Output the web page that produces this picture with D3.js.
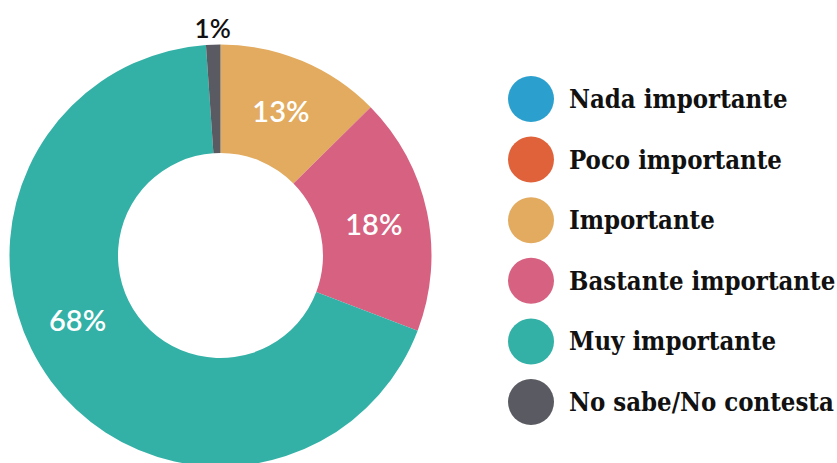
<html>
<head>
<script src="https://d3js.org/d3.v7.min.js"></script>
<style>
body { margin: 0; background: #fff; }
svg { display: block; }
</style>
</head>
<body>
<svg width="837" height="463"></svg>
<script>
var categories = ["Nada importante", "Poco importante", "Importante", "Bastante importante", "Muy importante", "No sabe/No contesta"];
var values = [0, 0, 12.6, 18.2, 68.1, 1.1];
var labels = ["0%", "0%", "13%", "18%", "68%", "1%"];
var colors = ["#2ba0cf", "#e0623a", "#e2ab5f", "#d66180", "#33b1a7", "#5a5a62"];

var svg = d3.select("svg");
var cx = 220.5, cy = 255.5, outerR = 211, innerR = 102.5;

var data = categories.map(function (c, i) {
  return { name: c, value: values[i], label: labels[i], color: colors[i] };
});

var pie = d3.pie().sort(null).value(function (d) { return d.value; });
var arcs = pie(data);
var arc = d3.arc().innerRadius(innerR).outerRadius(outerR);

var g = svg.append("g").attr("transform", "translate(" + cx + "," + cy + ")");

g.selectAll("path.slice").data(arcs).enter().append("path")
  .attr("class", "slice")
  .attr("d", arc)
  .attr("fill", function (d) { return d.data.color; });

// labels inside the ring, small ones outside
var labelR = (innerR + outerR) / 2;
g.selectAll("text.val").data(arcs.filter(function (d) { return d.data.value > 0; })).enter().append("text")
  .attr("class", "val")
  .each(function (d) {
    var span = d.endAngle - d.startAngle;
    var small = span < 0.15;
    // big slice label sits a bit past the middle
    var f = span > Math.PI ? 0.55 : 0.5;
    var a = d.startAngle + span * f;
    var r = small ? outerR + 17 : labelR;
    d3.select(this)
      .attr("x", r * Math.sin(a))
      .attr("y", -r * Math.cos(a))
      .attr("fill", small ? "#111" : "#fff")
      .attr("font-size", small ? 26 : 29);
  })
  .attr("text-anchor", "middle")
  .attr("dominant-baseline", "central")
  .attr("font-family", "Lato, sans-serif")
  .attr("font-weight", 600)
  .text(function (d) { return d.data.label; });

// legend
var legend = svg.append("g").attr("transform", "translate(531,99)");
var rowY = d3.scaleLinear().domain([0, 1]).range([0, 60.6]);
var item = legend.selectAll("g.item").data(data).enter().append("g")
  .attr("class", "item")
  .attr("transform", function (d, i) { return "translate(0," + rowY(i) + ")"; });
item.append("circle").attr("r", 23).attr("fill", function (d) { return d.color; });
item.append("text")
  .attr("x", 38)
  .attr("y", 9)
  .attr("font-family", "'DejaVu Serif Condensed', 'DejaVu Serif', serif")
  .attr("font-stretch", "condensed")
  .attr("font-weight", "bold")
  .attr("font-size", 25.5)
  .attr("fill", "#111")
  .text(function (d) { return d.name; });
</script>
</body>
</html>
